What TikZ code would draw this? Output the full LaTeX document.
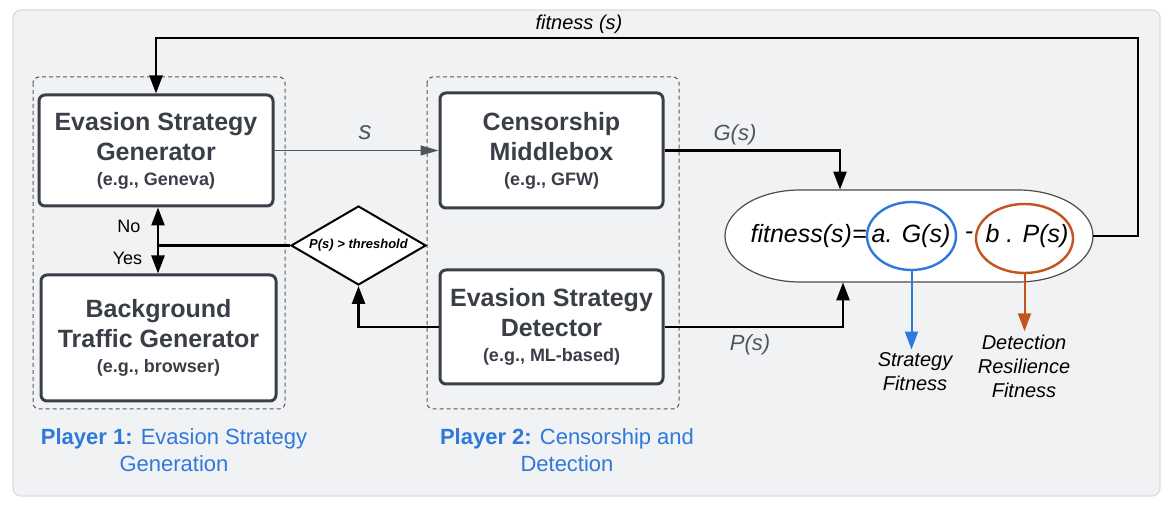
\documentclass[tikz,border=0pt]{standalone}
\usepackage{fontspec}
\setmainfont{Liberation Sans}
\usetikzlibrary{shapes.geometric, arrows.meta, positioning}
\definecolor{ink}{HTML}{3A3F47}
\definecolor{panel}{HTML}{F1F2F4}
\definecolor{rim}{HTML}{D9DBDF}
\definecolor{pblue}{HTML}{2F78DC}
\definecolor{porange}{HTML}{C2541D}
\definecolor{lblgray}{HTML}{50555C}
\newcommand{\egnote}[1]{{\fontsize{9}{11}\selectfont #1}}

\begin{document}
\begin{tikzpicture}[x=0.5pt, y=-0.5pt,
    box/.style={draw=ink, line width=1.5pt, rounded corners=3pt, fill=white, text=ink,
                align=center, inner sep=2pt, font=\fontsize{12.5}{15}\selectfont\bfseries},
    grp/.style={draw=black!65, dash pattern=on 2pt off 1.5pt, line width=0.5pt, rounded corners=3pt},
    conn/.style={-{Triangle[length=9pt,width=6.5pt]}, line width=1.25pt},
    lbl/.style={text=lblgray, font=\fontsize{11}{13}\selectfont\itshape},
    eq/.style={inner sep=0pt, font=\fontsize{12.5}{15}\selectfont\itshape},
    ring/.style={ellipse, line width=1.2pt, inner sep=0pt},
    note/.style={align=center, inner sep=1.5pt, font=\fontsize{10}{12}\selectfont\itshape},
    player/.style={text=pblue, align=center, font=\fontsize{11}{13.5}\selectfont}]
    \useasboundingbox (0,0) rectangle (1172,506);
    \draw[fill=panel, draw=rim, line width=0.6pt, rounded corners=4pt] (13,10) rectangle (1160,496);
    % player groups
    \draw[grp] (33,77) rectangle (285,409);
    \draw[grp] (427,77) rectangle (679,409);
    \node[box, minimum width=117pt, minimum height=55.5pt] (gen) at (156,150.5)
        {Evasion Strategy\\Generator\\[-2.5pt]\egnote{(e.g., Geneva)}};
    \node[box, minimum width=117.5pt, minimum height=63pt] (bg) at (158.5,338)
        {Background\\Traffic Generator\\[-2.5pt]\egnote{(e.g., browser)}};
    \node[box, minimum width=111.5pt, minimum height=57.5pt] (mb) at (551.5,150.5)
        {Censorship\\Middlebox\\[-2.5pt]\egnote{(e.g., GFW)}};
    \node[box, minimum width=111.5pt, minimum height=57pt] (det) at (551.5,327)
        {Evasion Strategy\\Detector\\[-2.5pt]\egnote{(e.g., ML-based)}};
    \node[diamond, draw, fill=white, line width=1pt, aspect=1.7, inner sep=0pt,
          minimum width=67.5pt, minimum height=39.5pt,
          font=\fontsize{6.5}{8}\selectfont\bfseries\itshape] (thr) at (358.5,245.5) {P(s) > threshold};
    \node[player] (p1) at (174,450) {\textbf{Player 1:} Evasion Strategy\\Generation};
    \node[player] (p2) at (567,450) {\textbf{Player 2:} Censorship and\\Detection};
    % fitness term
    \draw[draw=black!70, fill=white, line width=0.6pt] (800,190) -- (1018,190)
        arc[start angle=90, end angle=-90, x radius=37.5pt, y radius=23pt] -- (800,282)
        arc[start angle=270, end angle=90, x radius=37.5pt, y radius=23pt] -- cycle;
    \node[minimum width=184pt, minimum height=46pt, inner sep=0pt] (fit) at (909,236) {};
    \node[ring, draw=pblue, minimum width=44.5pt, minimum height=34pt] (gfit) at (911.5,236) {};
    \node[ring, draw=porange, minimum width=48.5pt, minimum height=34.5pt] (pfit) at (1024.5,238.5) {};
    \node[eq, anchor=east] (lhs) at (867,236) {fitness(s)=};
    \node[eq] (gterm) at (911,236) {a. G(s)};
    \node[eq] (minus) at (969,236) {-};
    \node[eq] (pterm) at (1027,236) {b . P(s)};
    \node[note] (sfitlbl) at (915,372) {Strategy\\Fitness};
    \node[note] (dfitlbl) at (1024,366) {Detection\\Resilience\\Fitness};
    % labels
    \node[font=\fontsize{10}{12}\selectfont\itshape] (fitlbl) at (579,24) {fitness (s)};
    \node[lbl, font=\fontsize{13}{15}\selectfont\itshape] (slbl) at (365,133) {s};
    \node[lbl] (glbl) at (735,135) {G(s)};
    \node[lbl] (plbl) at (750,345) {P(s)};
    \node[font=\fontsize{9}{11}\selectfont] (no) at (129,226) {No};
    \node[font=\fontsize{9}{11}\selectfont] (yes) at (127.5,258) {Yes};
    \coordinate (split) at (158,245.5);
    \coordinate (loop) at (1138,38);
    % connectors
    \draw[-{Triangle[length=9pt,width=5pt]}, line width=0.6pt, draw=lblgray] (gen.east) -- (mb.west);
    \draw[conn] (mb.east) -| ([xshift=-34.5pt]fit.north);
    \draw[conn] (det.east) -| ([xshift=-33pt]fit.south);
    \draw[conn] (det.west) -| (thr.south);
    \draw[line width=1.25pt] (thr.west) -- (split);
    \draw[conn] (split) -- (split |- gen.south);
    \draw[conn] (split) -- (split |- bg.north);
    \draw[conn] (fit.east) -| (loop) -| (gen.north);
    \draw[conn, draw=pblue, line width=1pt] (gfit.south) -- (gfit.south |- sfitlbl.north);
    \draw[conn, draw=porange, line width=1pt] (pfit.south) -- (pfit.south |- dfitlbl.north);
\end{tikzpicture}
\end{document}
